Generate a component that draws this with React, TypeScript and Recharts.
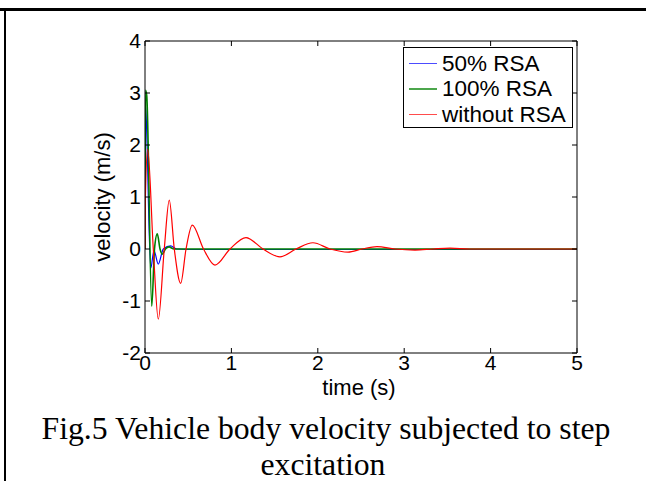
import React from 'react';
import { LineChart, Line, XAxis, YAxis, Legend } from 'recharts';

const xTicks = [0, 1, 2, 3, 4, 5];
const yTicks = [-2, -1, 0, 1, 2, 3, 4];

const seriesNames = ['50% RSA', '100% RSA', 'without RSA'];
const seriesColors = ['#0000ff', '#008000', '#ff0000'];

// 50% RSA
const timeBlue = [0, 0.005, 0.012, 0.066, 0.104, 0.154, 0.212, 0.297, 0.367, 0.6, 1, 2, 3, 4, 5];
const velBlue = [0, 2.75, 2.6, -0.37, -0.03, -0.29, 0, 0.06, 0, -0.01, -0.01, -0.01, -0.01, -0.01, -0.01];

// 100% RSA
const timeGreen = [0, 0.006, 0.02, 0.078, 0.11, 0.142, 0.174, 0.2, 0.237, 0.278, 0.336, 1, 2, 3, 4, 5];
const velGreen = [0, 3.05, 2.95, -1.1, 0, 0.29, 0, -0.1, 0, 0.04, 0, 0, 0, 0, 0, 0];

// without RSA
const timeRed = [0, 0.004, 0.031, 0.096, 0.154, 0.223, 0.281, 0.339, 0.413, 0.475, 0.547, 0.677, 0.81, 0.984, 1.169, 1.366, 1.562, 1.748, 1.944, 2.141, 2.35, 2.512, 2.685, 2.894, 3.125, 3.333, 3.53, 3.76, 4.2, 5];
const velRed = [0, 0.95, 1.92, 0, -1.35, 0, 0.94, 0, -0.66, 0, 0.46, 0, -0.31, 0, 0.22, 0, -0.15, 0, 0.12, 0, -0.06, 0, 0.045, 0, -0.02, 0, 0.015, 0, 0, 0];

const toRows = (ts: number[], vs: number[]) => ts.map((t, i) => ({ t, v: vs[i] }));
const blueData = toRows(timeBlue, velBlue);
const greenData = toRows(timeGreen, velGreen);
const redData = toRows(timeRed, velRed);

const SANS = '"Liberation Sans", Arial, sans-serif';
const SERIF = '"Liberation Serif", "Times New Roman", serif';
const FS = 22;
const TFS = 21;
const TICK = 5;

const BottomTick = (p: any) => (
  <g>
    <line x1={p.x} x2={p.x} y1={p.y} y2={p.y - TICK} stroke="#000" />
    <text x={p.x} y={p.y + 17} textAnchor="middle" fontFamily={SANS} fontSize={TFS} fill="#000">
      {String(p.payload.value)}
    </text>
  </g>
);
const TopTick = (p: any) => (
  <line x1={p.x} x2={p.x} y1={p.y} y2={p.y + TICK} stroke="#000" />
);
const LeftTick = (p: any) => (
  <g>
    <line x1={p.x} x2={p.x + TICK} y1={p.y} y2={p.y} stroke="#000" />
    <text x={p.x - 4} y={p.y + 7} textAnchor="end" fontFamily={SANS} fontSize={TFS} fill="#000">
      {String(p.payload.value)}
    </text>
  </g>
);
const RightTick = (p: any) => (
  <line x1={p.x} x2={p.x - TICK} y1={p.y} y2={p.y} stroke="#000" />
);

const XTitle = (p: any) => {
  const vb = p.viewBox || { x: 145, y: 353, width: 432, height: 40 };
  return (
    <text x={vb.x + vb.width / 2 - 2} y={vb.y + 42} textAnchor="middle" fontFamily={SANS} fontSize={FS} fill="#000">
      time (s)
    </text>
  );
};
const YTitle = (p: any) => {
  const vb = p.viewBox || { x: 0, y: 41, width: 145, height: 312 };
  const cx = vb.x + 110;
  const cy = vb.y + vb.height / 2;
  return (
    <text x={cx} y={cy} transform={`rotate(-90, ${cx}, ${cy})`} textAnchor="middle" fontFamily={SANS} fontSize={FS} fill="#000">
      velocity (m/s)
    </text>
  );
};

const LegendBox = () => (
  <div
    style={{
      position: 'relative',
      width: 170,
      height: 81,
      border: '1px solid #000',
      boxSizing: 'border-box',
      background: '#fff',
      fontFamily: SANS,
      fontSize: 22.5,
      color: '#000',
    }}
  >
    {seriesNames.map((n, i) => (
      <div
        key={n}
        style={{
          position: 'absolute',
          left: 0,
          top: 15.5 + 25.5 * i - 13,
          height: 26,
          display: 'flex',
          alignItems: 'center',
          whiteSpace: 'nowrap',
        }}
      >
        <div style={{ marginLeft: 5, width: 28, height: 1.5, background: seriesColors[i], opacity: 0.7 }} />
        <span style={{ marginLeft: 5, lineHeight: '26px' }}>{n}</span>
      </div>
    ))}
  </div>
);

export default function App() {
  return (
    <div style={{ position: 'absolute', left: 0, top: 0, width: 646, height: 481, background: '#fff', overflow: 'hidden' }}>
      <div style={{ position: 'absolute', left: 0, top: 7.5, width: 646, height: 3, background: '#000' }} />
      <div style={{ position: 'absolute', left: 4, top: 9, width: 2, height: 472, background: '#000' }} />
      <div style={{ position: 'absolute', left: 0, top: 0 }}>
        <LineChart width={646} height={481} margin={{ top: 36, right: 64, bottom: 88, left: 0 }}>
          <XAxis
            xAxisId="b"
            dataKey="t"
            type="number"
            domain={[0, 5]}
            ticks={xTicks}
            allowDataOverflow
            height={40}
            tickSize={0}
            tickMargin={0}
            tickLine={false}
            axisLine={{ stroke: '#000' }}
            tick={BottomTick}
            interval={0}
            label={<XTitle />}
          />
          <XAxis
            xAxisId="t"
            orientation="top"
            dataKey="t"
            type="number"
            domain={[0, 5]}
            ticks={xTicks}
            allowDataOverflow
            height={5}
            tickSize={0}
            tickMargin={0}
            tickLine={false}
            axisLine={{ stroke: '#000' }}
            tick={TopTick}
            interval={0}
          />
          <YAxis
            yAxisId="l"
            type="number"
            domain={[-2, 4]}
            ticks={yTicks}
            allowDataOverflow
            width={145}
            tickSize={0}
            tickMargin={0}
            tickLine={false}
            axisLine={{ stroke: '#000' }}
            tick={LeftTick}
            interval={0}
            label={<YTitle />}
          />
          <YAxis
            yAxisId="r"
            orientation="right"
            type="number"
            domain={[-2, 4]}
            ticks={yTicks}
            allowDataOverflow
            width={5}
            tickSize={0}
            tickMargin={0}
            tickLine={false}
            axisLine={{ stroke: '#000' }}
            tick={RightTick}
            interval={0}
          />
          <Line xAxisId="b" yAxisId="l" data={blueData} dataKey="v" name={seriesNames[0]} type="monotone" stroke={seriesColors[0]} strokeWidth={1.2} dot={false} isAnimationActive={false} />
          <Line xAxisId="b" yAxisId="l" data={greenData} dataKey="v" name={seriesNames[1]} type="monotone" stroke={seriesColors[1]} strokeWidth={1.6} dot={false} isAnimationActive={false} />
          <Line xAxisId="b" yAxisId="l" data={redData} dataKey="v" name={seriesNames[2]} type="monotone" stroke={seriesColors[2]} strokeWidth={1.2} dot={false} isAnimationActive={false} />
          <Legend
            layout="vertical"
            align="center"
            verticalAlign="middle"
            wrapperStyle={{ left: 403, top: 47, width: 170, height: 81 }}
            content={<LegendBox />}
          />
        </LineChart>
      </div>
      <div
        style={{
          position: 'absolute',
          left: 0,
          top: 411,
          width: 646,
          textAlign: 'center',
          fontFamily: SERIF,
          fontSize: 31.7,
          lineHeight: '36px',
          color: '#000',
          whiteSpace: 'nowrap',
        }}
      >
        <div style={{ paddingLeft: 6 }}>Fig.5 Vehicle body velocity subjected to step</div>
        <div>excitation</div>
      </div>
    </div>
  );
}
